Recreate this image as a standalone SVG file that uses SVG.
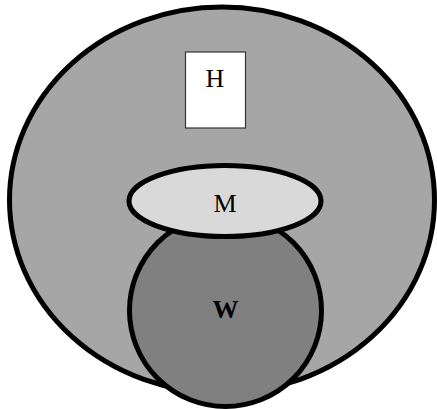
<svg xmlns="http://www.w3.org/2000/svg" width="437" height="409" viewBox="0 0 437 409">
  <style>
    .shape { stroke: #000; stroke-width: 5; }
    .label { font-family: "Liberation Serif", "Times New Roman", serif; font-size: 26px; text-anchor: middle; fill: #000; }
  </style>
  <rect x="0" y="0" width="437" height="409" fill="#fff"/>
  <g id="outer">
    <ellipse class="shape" cx="222" cy="200" rx="212.5" ry="193" fill="#a6a6a6"/>
  </g>
  <g id="H">
    <rect x="185.5" y="52" width="60" height="76" fill="#fff" stroke="#333" stroke-width="1.2"/>
    <text class="label" x="215" y="87">H</text>
  </g>
  <g id="W">
    <circle class="shape" cx="225.5" cy="310.5" r="96" fill="#808080"/>
    <text class="label" x="225.5" y="318" font-weight="bold">W</text>
  </g>
  <g id="M">
    <ellipse class="shape" cx="225" cy="201" rx="96" ry="35.5" fill="#d9d9d9"/>
    <text class="label" x="225" y="212">M</text>
  </g>
  <g id="connectors"/>
</svg>
